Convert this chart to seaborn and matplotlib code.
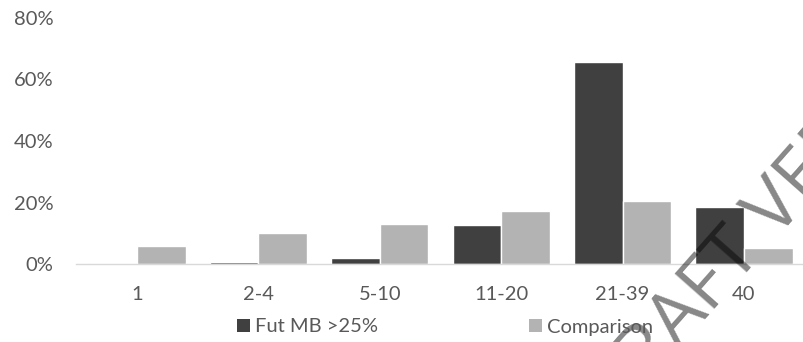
import matplotlib
matplotlib.use("Agg")
import matplotlib.pyplot as plt
import matplotlib.patches as mpatches
import seaborn as sns
import pandas as pd

categories = ["1", "2-4", "5-10", "11-20", "21-39", "40"]
fut_mb = [0.2, 0.6, 2.0, 12.7, 65.7, 18.6]
comparison = [5.8, 10.2, 13.1, 17.1, 20.6, 5.2]
series_names = ["Fut MB >25%", "Comparison"]
y_ticks = [0, 20, 40, 60, 80]

df = pd.DataFrame({
    "category": categories * 2,
    "value": fut_mb + comparison,
    "series": [series_names[0]] * len(categories) + [series_names[1]] * len(categories),
})

sns.set_theme(style="white")
plt.rcParams["font.family"] = ["Lato", "DejaVu Sans"]

colors = {series_names[0]: "#404040", series_names[1]: "#b3b3b3"}
text_color = "#595959"
fs = 14.5

fig = plt.figure(figsize=(8.04, 3.42), dpi=100)
ax = fig.add_axes([76.3 / 804, 78 / 342, 728.4 / 804, 246 / 342])

sns.barplot(data=df, x="category", y="value", hue="series", order=categories,
            hue_order=series_names, palette=colors, width=0.8, saturation=1,
            ax=ax, legend=False)

ax.set_ylim(0, 80)
ax.set_xlim(-0.5, len(categories) - 0.5)
ax.set_yticks(y_ticks)
ax.set_yticklabels([f"{t}%" for t in y_ticks])
ax.set_xlabel("")
ax.set_ylabel("")
ax.tick_params(axis="both", length=0, labelsize=fs, colors=text_color)
ax.tick_params(axis="y", pad=16.5)
ax.tick_params(axis="x", pad=16)
for s in ["top", "right", "left"]:
    ax.spines[s].set_visible(False)
ax.spines["bottom"].set_color("#d9d9d9")
ax.spines["bottom"].set_linewidth(1.0)
ax.grid(False)

handles = [mpatches.Patch(facecolor=colors[n], edgecolor="none", label=n) for n in series_names]
fig.legend(handles=handles, loc="center", bbox_to_anchor=(445 / 804, 1 - 327 / 342),
           ncol=2, frameon=False, fontsize=fs, labelcolor=text_color,
           handlelength=0.65, handleheight=0.65, handletextpad=0.25, columnspacing=7.5,
           borderaxespad=0, borderpad=0)

fig.text(612 / 804, 1 - 425 / 342, "DRAFT VERSION", rotation=48.5, rotation_mode="anchor",
         ha="left", va="baseline", fontsize=54, color="black", alpha=0.47,
         family=["Open Sans", "DejaVu Sans"])

fig.savefig("out.png", dpi=100)
